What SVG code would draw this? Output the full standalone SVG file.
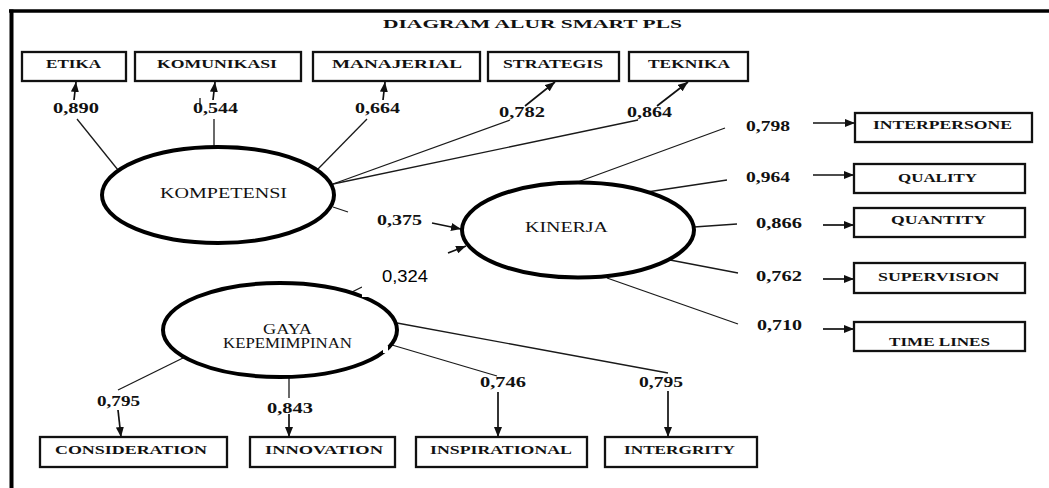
<svg xmlns="http://www.w3.org/2000/svg" width="1049" height="488" viewBox="0 0 1049 488">
<defs>
<style>
.box{fill:#fff;stroke:#111;stroke-width:2.3}
.ell{fill:#fff;stroke:#000;stroke-width:4}
.ln{stroke:#1a1a1a;stroke-width:1.3;fill:none}
.ar{stroke:#111;stroke-width:1.7;fill:none;marker-end:url(#ah)}
.bl{font-family:"Liberation Serif","Times New Roman",serif;font-weight:bold;font-size:13.5px;fill:#111}
.num{font-family:"Liberation Serif","Times New Roman",serif;font-weight:bold;font-size:14px;fill:#111}
.el{font-family:"Liberation Serif","Times New Roman",serif;font-size:14px;fill:#111}
</style>
<marker id="ah" markerUnits="userSpaceOnUse" markerWidth="10" markerHeight="8" refX="10" refY="4" orient="auto">
<path d="M0,0 L10,4 L0,8 z" fill="#111"/>
</marker>
</defs>
<rect x="0" y="0" width="1049" height="488" fill="#fff"/>
<g id="frame">
<line x1="9" y1="11" x2="1049" y2="11" stroke="#000" stroke-width="3.5"/>
<line x1="11.5" y1="9.5" x2="11.5" y2="488" stroke="#000" stroke-width="4"/>
</g>
<text x="383" y="28" class="bl" font-size="15.5" textLength="299" lengthAdjust="spacingAndGlyphs">DIAGRAM  ALUR  SMART PLS</text>

<g id="connectors">
<line class="ln" x1="118" y1="170" x2="77" y2="119"/>
<line class="ar" x1="74" y1="100" x2="76" y2="82"/>
<line class="ln" x1="214" y1="147" x2="214" y2="119"/>
<line class="ar" x1="213" y1="100" x2="215" y2="82"/>
<line class="ln" x1="200" y1="98" x2="200" y2="105"/>
<line class="ln" x1="317" y1="170" x2="367" y2="119"/>
<line class="ar" x1="383" y1="100" x2="385" y2="82"/>
<line class="ln" x1="333" y1="184" x2="510" y2="120"/>
<line class="ar" x1="525" y1="106" x2="555" y2="82"/>
<line class="ln" x1="333" y1="184" x2="638" y2="120"/>
<line class="ar" x1="657" y1="106" x2="688" y2="82"/>
<line class="ln" x1="333" y1="207" x2="348" y2="212"/>
<line class="ar" x1="432" y1="223" x2="461" y2="229"/>
<line class="ln" x1="352" y1="292" x2="362" y2="287"/>
<line class="ar" x1="448" y1="253" x2="466" y2="246"/>
<line class="ln" x1="575" y1="183" x2="725" y2="128"/>
<line class="ar" x1="813" y1="123" x2="855" y2="123"/>
<line class="ln" x1="647" y1="192" x2="727" y2="180"/>
<line class="ar" x1="813" y1="175" x2="854" y2="175"/>
<line class="ln" x1="694" y1="227" x2="737" y2="224"/>
<line class="ar" x1="823" y1="225" x2="854" y2="225"/>
<line class="ln" x1="670" y1="260" x2="738" y2="273"/>
<line class="ar" x1="823" y1="279" x2="854" y2="279"/>
<line class="ln" x1="607" y1="278" x2="738" y2="324"/>
<line class="ar" x1="823" y1="329" x2="854" y2="329"/>
<line class="ln" x1="185" y1="357" x2="118" y2="390"/>
<line class="ar" x1="118" y1="410" x2="121" y2="437"/>
<line class="ln" x1="289" y1="377" x2="289" y2="398"/>
<line class="ar" x1="289" y1="414" x2="289" y2="437"/>
<line class="ln" x1="392" y1="345" x2="497" y2="376"/>
<line class="ar" x1="498" y1="392" x2="498" y2="437"/>
<line class="ln" x1="397" y1="323" x2="668" y2="373"/>
<line class="ar" x1="668" y1="391" x2="668" y2="437"/>
</g>

<g id="KOMPETENSI">
<ellipse class="ell" cx="218" cy="195" rx="116" ry="48"/>
<text class="el" x="160" y="198" textLength="127" lengthAdjust="spacingAndGlyphs">KOMPETENSI</text>
</g>
<g id="KINERJA">
<ellipse class="ell" cx="578" cy="230" rx="116" ry="47.5"/>
<text class="el" x="525" y="232" textLength="83" lengthAdjust="spacingAndGlyphs">KINERJA</text>
</g>
<g id="GAYA">
<ellipse class="ell" cx="280" cy="330" rx="117" ry="47"/>
<rect x="362" y="258" width="84" height="39" fill="#fff"/>
<rect x="383" y="346" width="5" height="7" fill="#fff"/>
<text class="el" x="263" y="334" font-size="13" textLength="49" lengthAdjust="spacingAndGlyphs">GAYA</text>
<text class="el" x="223" y="348" font-size="13" textLength="129" lengthAdjust="spacingAndGlyphs">KEPEMIMPINAN</text>
</g>

<g id="ETIKA"><rect class="box" x="22" y="52" width="104" height="29"/><text class="bl" x="46" y="68" textLength="55" lengthAdjust="spacingAndGlyphs">ETIKA</text></g>
<g id="KOMUNIKASI"><rect class="box" x="135" y="52" width="166" height="29"/><text class="bl" x="157" y="68" textLength="120" lengthAdjust="spacingAndGlyphs">KOMUNIKASI</text></g>
<g id="MANAJERIAL"><rect class="box" x="313" y="52" width="167" height="29"/><text class="bl" x="332" y="68" textLength="130" lengthAdjust="spacingAndGlyphs">MANAJERIAL</text></g>
<g id="STRATEGIS"><rect class="box" x="488" y="52" width="131" height="29"/><text class="bl" x="503" y="68" textLength="100" lengthAdjust="spacingAndGlyphs">STRATEGIS</text></g>
<g id="TEKNIKA"><rect class="box" x="629" y="52" width="119" height="29"/><text class="bl" x="648" y="68" textLength="82" lengthAdjust="spacingAndGlyphs">TEKNIKA</text></g>

<g id="INTERPERSONE"><rect class="box" x="855" y="113" width="177" height="29"/><text class="bl" x="873" y="129" textLength="139" lengthAdjust="spacingAndGlyphs">INTERPERSONE</text></g>
<g id="QUALITY"><rect class="box" x="854" y="164" width="171" height="29"/><text class="bl" x="898" y="182" textLength="79" lengthAdjust="spacingAndGlyphs">QUALITY</text></g>
<g id="QUANTITY"><rect class="box" x="854" y="208" width="171" height="29"/><text class="bl" x="891" y="224" textLength="95" lengthAdjust="spacingAndGlyphs">QUANTITY</text></g>
<g id="SUPERVISION"><rect class="box" x="854" y="263" width="171" height="30"/><text class="bl" x="878" y="281" textLength="121" lengthAdjust="spacingAndGlyphs">SUPERVISION</text></g>
<g id="TIMELINES"><rect class="box" x="854" y="322" width="171" height="29"/><text class="bl" x="889" y="346" textLength="101" lengthAdjust="spacingAndGlyphs">TIME LINES</text></g>

<g id="CONSIDERATION"><rect class="box" x="40" y="437" width="187" height="30"/><text class="bl" x="55" y="454" textLength="152" lengthAdjust="spacingAndGlyphs">CONSIDERATION</text></g>
<g id="INNOVATION"><rect class="box" x="250" y="437" width="145" height="30"/><text class="bl" x="265" y="454" textLength="118" lengthAdjust="spacingAndGlyphs">INNOVATION</text></g>
<g id="INSPIRATIONAL"><rect class="box" x="416" y="437" width="171" height="30"/><text class="bl" x="430" y="454" textLength="142" lengthAdjust="spacingAndGlyphs">INSPIRATIONAL</text></g>
<g id="INTERGRITY"><rect class="box" x="605" y="437" width="152" height="30"/><text class="bl" x="624" y="454" textLength="111" lengthAdjust="spacingAndGlyphs">INTERGRITY</text></g>

<g id="labels">
<text class="num" x="53" y="113" textLength="46" lengthAdjust="spacingAndGlyphs">0,890</text>
<text class="num" x="193" y="113" textLength="45" lengthAdjust="spacingAndGlyphs">0,544</text>
<text class="num" x="355" y="113" textLength="45" lengthAdjust="spacingAndGlyphs">0,664</text>
<text class="num" x="499" y="117" textLength="46" lengthAdjust="spacingAndGlyphs">0,782</text>
<text class="num" x="627" y="117" textLength="45" lengthAdjust="spacingAndGlyphs">0,864</text>
<text class="num" x="746" y="131" textLength="44" lengthAdjust="spacingAndGlyphs">0,798</text>
<text class="num" x="746" y="182" textLength="44" lengthAdjust="spacingAndGlyphs">0,964</text>
<text class="num" x="756" y="228" textLength="46" lengthAdjust="spacingAndGlyphs">0,866</text>
<text class="num" x="756" y="281" textLength="46" lengthAdjust="spacingAndGlyphs">0,762</text>
<text class="num" x="757" y="330" textLength="45" lengthAdjust="spacingAndGlyphs">0,710</text>
<text class="num" x="377" y="225" textLength="45" lengthAdjust="spacingAndGlyphs">0,375</text>
<text x="382" y="282" font-family="'Liberation Sans',Arial,sans-serif" font-size="16.5" fill="#000" textLength="46" lengthAdjust="spacingAndGlyphs">0,324</text>
<text class="num" x="97" y="406" textLength="43" lengthAdjust="spacingAndGlyphs">0,795</text>
<text class="num" x="267" y="413" textLength="46" lengthAdjust="spacingAndGlyphs">0,843</text>
<text class="num" x="480" y="387" textLength="46" lengthAdjust="spacingAndGlyphs">0,746</text>
<text class="num" x="639" y="387" textLength="44" lengthAdjust="spacingAndGlyphs">0,795</text>
</g>
</svg>
